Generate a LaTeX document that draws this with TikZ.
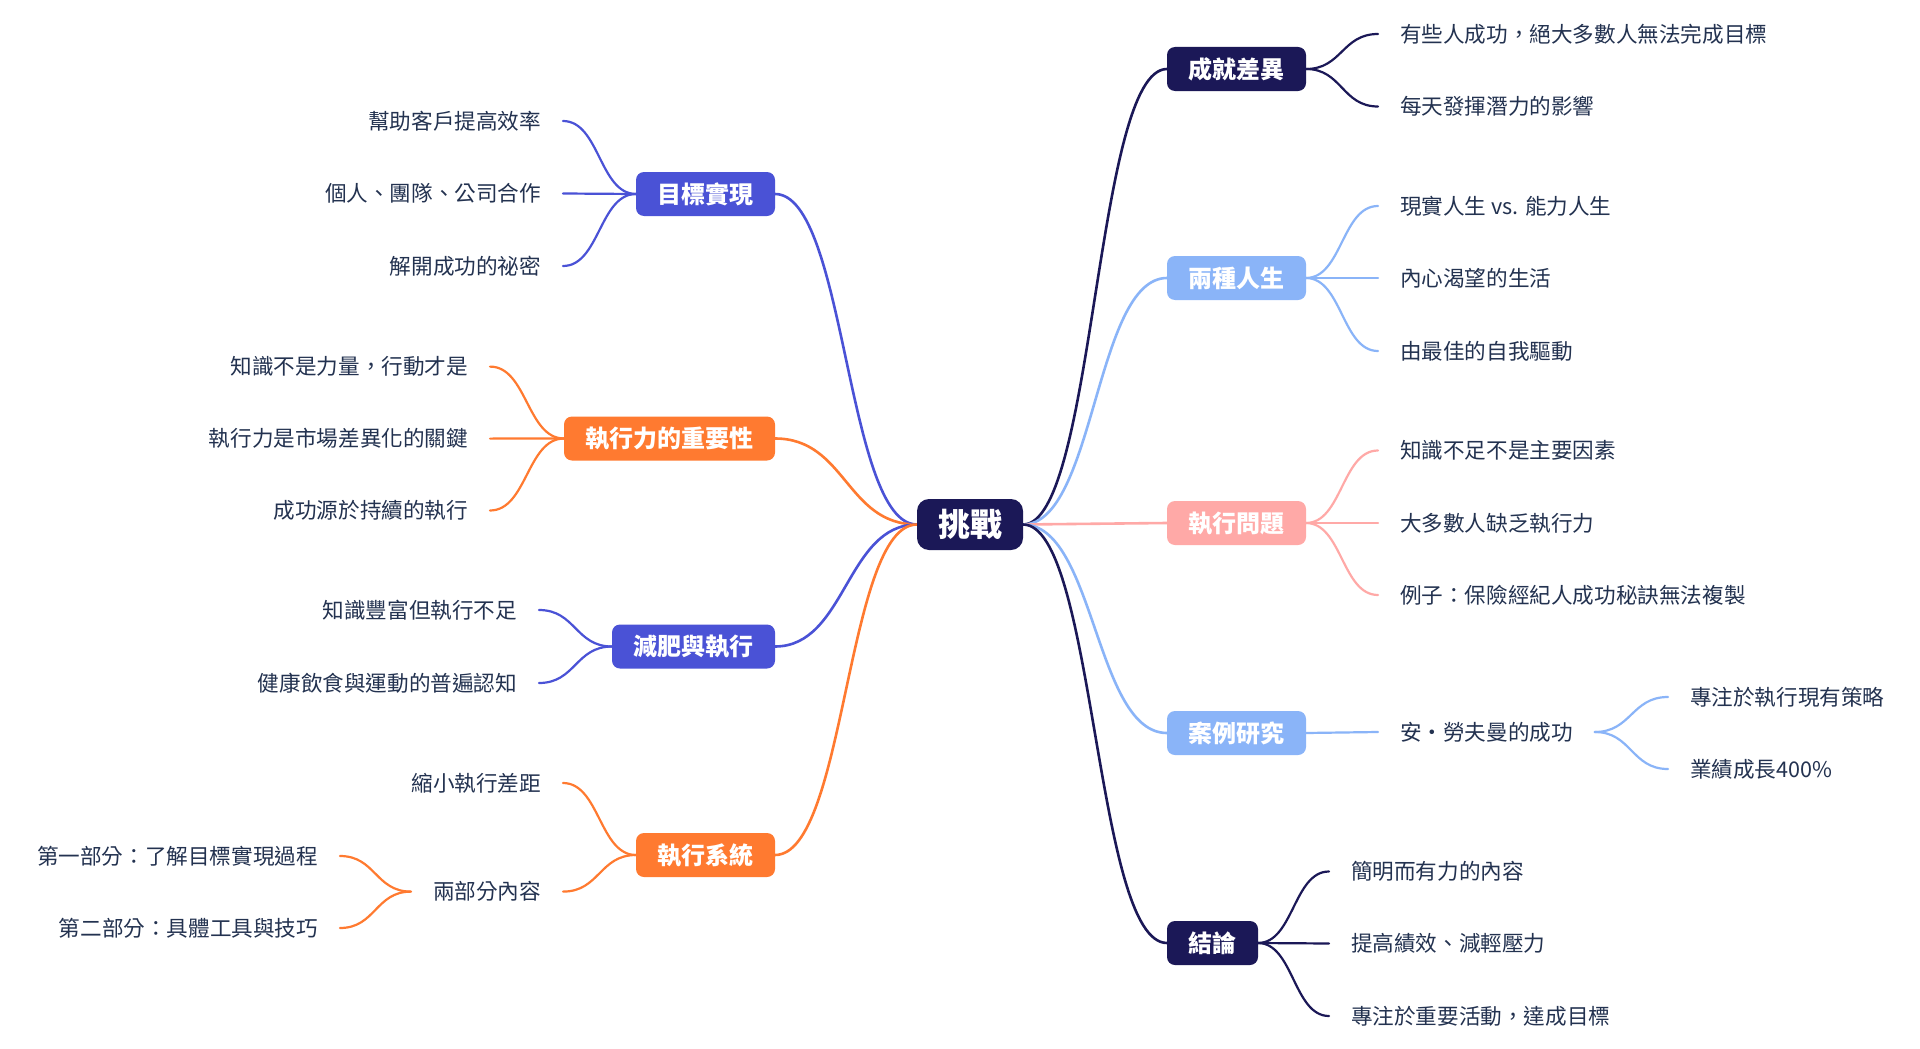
\documentclass[tikz,border=0pt]{standalone}
\usepackage{fontspec}
\setmainfont{Noto Sans CJK TC}
\usetikzlibrary{calc}
\definecolor{mmnavy}{HTML}{1B1857}
\definecolor{mmlblue}{HTML}{8AB4F8}
\definecolor{mmpink}{HTML}{FFA9A7}
\definecolor{mmblue}{HTML}{4A52D6}
\definecolor{mmorange}{HTML}{FF7A30}
\definecolor{mmtext}{HTML}{233250}
\pgfdeclarelayer{bglayer}
\pgfdeclarelayer{linelayer}
\pgfsetlayers{bglayer,linelayer,main}
\newcommand\mmlink[3]{%
  \path (#2) coordinate (mmA);
  \path (#3) coordinate (mmB);
  \path ($(mmA)!0.5!(mmB)$) coordinate (mmM);
  \draw[#1] (mmA) .. controls (mmM |- mmA) and (mmM |- mmB) .. (mmB);}
\begin{document}
\begin{tikzpicture}[x=1pt,y=-1pt,
  lvbox/.style={rounded corners=8pt, text=white, inner xsep=21.5pt, inner ysep=0pt,
    minimum height=44pt, outer sep=0pt, text height=21.1pt, text depth=2.9pt,
    font=\fontsize{24}{28}\bfseries\selectfont},
  rootbox/.style={lvbox, rounded corners=12pt, fill=mmnavy, minimum height=51pt, inner xsep=21pt,
    text height=28.2pt, text depth=3.8pt,
    font=\fontsize{32}{36}\bfseries\selectfont},
  navybox/.style={lvbox, fill=mmnavy},
  lbluebox/.style={lvbox, fill=mmlblue},
  pinkbox/.style={lvbox, fill=mmpink},
  bluebox/.style={lvbox, fill=mmblue},
  orangebox/.style={lvbox, fill=mmorange},
  leaf/.style={text=mmtext, inner sep=0pt, outer xsep=22pt, outer ysep=0pt,
    text height=19pt, text depth=2.6pt, font=\fontsize{21.6}{26}\selectfont},
  rleaf/.style={leaf, anchor=west},
  lleaf/.style={leaf, anchor=east},
  mainedge/.style={line width=2.6pt, line cap=round},
  subedge/.style={line width=2.2pt, line cap=round},
]
\begin{pgfonlayer}{bglayer}
\fill[white] (0,0) rectangle (1920,1049);
\end{pgfonlayer}
\useasboundingbox (0,0) rectangle (1920,1049);

% root
\node[rootbox] (root) at (970,524.5) {挑戰};

% right level 1
\node[navybox, anchor=west] (c1) at (1167,69) {成就差異};
\node[lbluebox, anchor=west] (c2) at (1167,278) {兩種人生};
\node[pinkbox, anchor=west] (c3) at (1167,523) {執行問題};
\node[lbluebox, anchor=west] (c4) at (1167,733) {案例研究};
\node[navybox, anchor=west] (c5) at (1167,943) {結論};

% left level 1
\node[bluebox, anchor=east] (c6) at (775,194) {目標實現};
\node[orangebox, anchor=east] (c7) at (775,438.5) {執行力的重要性};
\node[bluebox, anchor=east] (c8) at (775,646.5) {減肥與執行};
\node[orangebox, anchor=east] (c9) at (775,855) {執行系統};

% right leaves
\node[rleaf] (c1a) at (1378,34) {有些人成功，絕大多數人無法完成目標};
\node[rleaf] (c1b) at (1378,106.5) {每天發揮潛力的影響};
\node[rleaf] (c2a) at (1378,206) {現實人生 vs. 能力人生};
\node[rleaf] (c2b) at (1378,278) {內心渴望的生活};
\node[rleaf] (c2c) at (1378,351) {由最佳的自我驅動};
\node[rleaf] (c3a) at (1378,450.5) {知識不足不是主要因素};
\node[rleaf] (c3b) at (1378,523) {大多數人缺乏執行力};
\node[rleaf] (c3c) at (1378,595) {例子：保險經紀人成功秘訣無法複製};
\node[rleaf] (c4a) at (1378,732) {安‧勞夫曼的成功};
\node[rleaf] (c4a1) at (1668,697) {專注於執行現有策略};
\node[rleaf] (c4a2) at (1668,769) {業績成長400\%};
\node[rleaf] (c5a) at (1329,871.5) {簡明而有力的內容};
\node[rleaf] (c5b) at (1329,943.5) {提高績效、減輕壓力};
\node[rleaf] (c5c) at (1329,1016) {專注於重要活動，達成目標};

% left leaves
\node[lleaf] (c6a) at (563,121) {幫助客戶提高效率};
\node[lleaf] (c6b) at (563,193.5) {個人、團隊、公司合作};
\node[lleaf] (c6c) at (563,266) {解開成功的祕密};
\node[lleaf] (c7a) at (490,366.6) {知識不是力量，行動才是};
\node[lleaf] (c7b) at (490,438.6) {執行力是市場差異化的關鍵};
\node[lleaf] (c7c) at (490,510.5) {成功源於持續的執行};
\node[lleaf] (c8a) at (539,610) {知識豐富但執行不足};
\node[lleaf] (c8b) at (539,683) {健康飲食與運動的普遍認知};
\node[lleaf] (c9a) at (563,783) {縮小執行差距};
\node[lleaf] (c9b) at (563,891.6) {兩部分內容};
\node[lleaf] (c9b1) at (340,856) {第一部分：了解目標實現過程};
\node[lleaf] (c9b2) at (340,928) {第二部分：具體工具與技巧};

\begin{pgfonlayer}{linelayer}
% root to level 1
\mmlink{mainedge, mmnavy}{root.east}{c1.west}
\mmlink{mainedge, mmlblue}{root.east}{c2.west}
\mmlink{mainedge, mmpink}{root.east}{c3.west}
\mmlink{mainedge, mmlblue}{root.east}{c4.west}
\mmlink{mainedge, mmnavy}{root.east}{c5.west}
\mmlink{mainedge, mmblue}{root.west}{c6.east}
\mmlink{mainedge, mmorange}{root.west}{c7.east}
\mmlink{mainedge, mmblue}{root.west}{c8.east}
\mmlink{mainedge, mmorange}{root.west}{c9.east}
% right subtrees
\mmlink{subedge, mmnavy}{c1.east}{c1a.west}
\mmlink{subedge, mmnavy}{c1.east}{c1b.west}
\mmlink{subedge, mmlblue}{c2.east}{c2a.west}
\mmlink{subedge, mmlblue}{c2.east}{c2b.west}
\mmlink{subedge, mmlblue}{c2.east}{c2c.west}
\mmlink{subedge, mmpink}{c3.east}{c3a.west}
\mmlink{subedge, mmpink}{c3.east}{c3b.west}
\mmlink{subedge, mmpink}{c3.east}{c3c.west}
\mmlink{subedge, mmlblue}{c4.east}{c4a.west}
\mmlink{subedge, mmlblue}{c4a.east}{c4a1.west}
\mmlink{subedge, mmlblue}{c4a.east}{c4a2.west}
\mmlink{subedge, mmnavy}{c5.east}{c5a.west}
\mmlink{subedge, mmnavy}{c5.east}{c5b.west}
\mmlink{subedge, mmnavy}{c5.east}{c5c.west}
% left subtrees
\mmlink{subedge, mmblue}{c6.west}{c6a.east}
\mmlink{subedge, mmblue}{c6.west}{c6b.east}
\mmlink{subedge, mmblue}{c6.west}{c6c.east}
\mmlink{subedge, mmorange}{c7.west}{c7a.east}
\mmlink{subedge, mmorange}{c7.west}{c7b.east}
\mmlink{subedge, mmorange}{c7.west}{c7c.east}
\mmlink{subedge, mmblue}{c8.west}{c8a.east}
\mmlink{subedge, mmblue}{c8.west}{c8b.east}
\mmlink{subedge, mmorange}{c9.west}{c9a.east}
\mmlink{subedge, mmorange}{c9.west}{c9b.east}
\mmlink{subedge, mmorange}{c9b.west}{c9b1.east}
\mmlink{subedge, mmorange}{c9b.west}{c9b2.east}
\end{pgfonlayer}
\end{tikzpicture}
\end{document}
